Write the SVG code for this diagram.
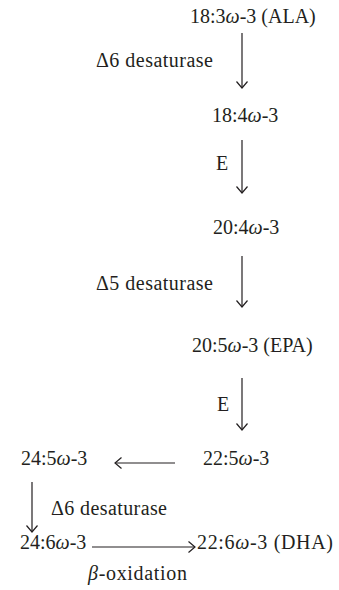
<svg xmlns="http://www.w3.org/2000/svg" width="339" height="590" viewBox="0 0 339 590">
<style>
text{font-family:"Liberation Serif","Times New Roman",serif;font-size:20px;fill:#231f20}
.w{font-style:italic}
.c line{stroke:#231f20;stroke-width:1.2;fill:none;marker-end:url(#ah)}
</style>
<defs>
<marker id="ah" markerUnits="userSpaceOnUse" markerWidth="14" markerHeight="14" viewBox="-8 -7 10 14" refX="0" refY="0" orient="auto">
<path d="M-6.5,-5.5 L0,0 L-6.5,5.5" fill="none" stroke="#231f20" stroke-width="1.2"/>
</marker>
</defs>
<rect width="339" height="590" fill="#fff"/>
<g id="n1"><text x="190" y="23">18:3<tspan class="w">ω</tspan>-3 (ALA)</text></g>
<g id="n2"><text x="212" y="122">18:4<tspan class="w">ω</tspan>-3</text></g>
<g id="n3"><text x="213" y="234">20:4<tspan class="w">ω</tspan>-3</text></g>
<g id="n4"><text x="192" y="352">20:5<tspan class="w">ω</tspan>-3 (EPA)</text></g>
<g id="n5"><text x="203" y="465">22:5<tspan class="w">ω</tspan>-3</text></g>
<g id="n6"><text x="21" y="465">24:5<tspan class="w">ω</tspan>-3</text></g>
<g id="n7"><text x="20" y="549">24:6<tspan class="w">ω</tspan>-3</text></g>
<g id="n8"><text x="197" y="549" textLength="136" lengthAdjust="spacing">22:6<tspan class="w">ω</tspan>-3 (DHA)</text></g>
<g id="connectors" class="c">
<line x1="242" y1="33" x2="242" y2="88"/>
<line x1="242" y1="140" x2="242" y2="193"/>
<line x1="242" y1="256" x2="242" y2="307"/>
<line x1="242" y1="378" x2="242" y2="430"/>
<line x1="175" y1="463" x2="115" y2="463"/>
<line x1="32" y1="482" x2="32" y2="532"/>
<line x1="92" y1="547" x2="195" y2="547"/>
</g>
<g id="labels">
<text x="96" y="67" textLength="117" lengthAdjust="spacing">Δ6 desaturase</text>
<text x="216" y="170">E</text>
<text x="96" y="290" textLength="117" lengthAdjust="spacing">Δ5 desaturase</text>
<text x="217" y="411">E</text>
<text x="51" y="515" textLength="116" lengthAdjust="spacing">Δ6 desaturase</text>
<text x="88" y="580" textLength="99" lengthAdjust="spacing"><tspan class="w">β</tspan>-oxidation</text>
</g>
</svg>
